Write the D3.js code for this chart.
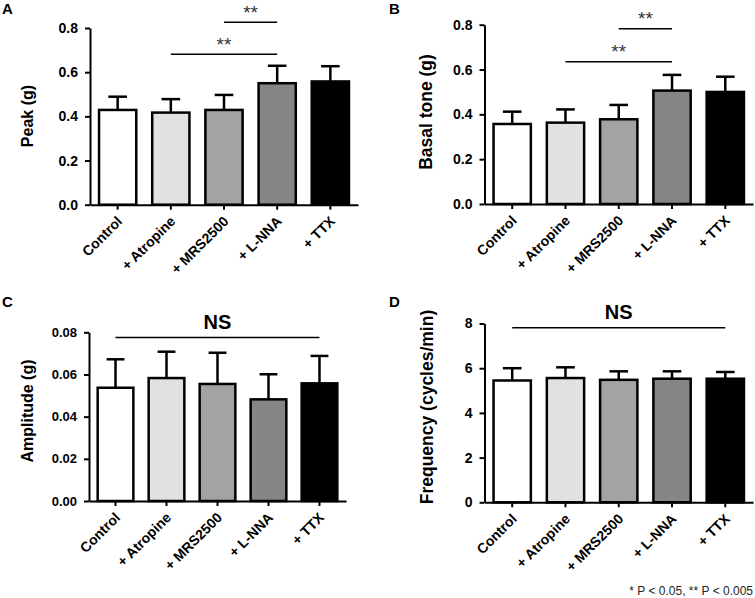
<!DOCTYPE html>
<html><head><meta charset="utf-8">
<script src="https://cdn.jsdelivr.net/npm/d3@7/dist/d3.min.js"></script>
<style>
body{margin:0;background:#fff}
svg text{font-family:"Liberation Sans",Arial,Helvetica,sans-serif}
</style>
</head><body>
<svg id="chart" width="755" height="598"></svg>
<script>
// ---------- data ----------
const categories = ["Control", "+ Atropine", "+ MRS2500", "+ L-NNA", "+ TTX"];

const peakMean  = [0.429, 0.417, 0.429, 0.550, 0.558];
const peakSEM   = [0.060, 0.061, 0.068, 0.079, 0.069];
const peakTicks = [0, 0.2, 0.4, 0.6, 0.8];

const basalMean  = [0.357, 0.363, 0.378, 0.506, 0.500];
const basalSEM   = [0.055, 0.059, 0.064, 0.070, 0.068];
const basalTicks = [0, 0.2, 0.4, 0.6, 0.8];

const ampMean  = [0.0537, 0.0583, 0.0555, 0.0482, 0.0558];
const ampSEM   = [0.0135, 0.0125, 0.0148, 0.0119, 0.0130];
const ampTicks = [0, 0.02, 0.04, 0.06, 0.08];

const freqMean  = [5.45, 5.56, 5.48, 5.53, 5.53];
const freqSEM   = [0.55, 0.48, 0.38, 0.33, 0.30];
const freqTicks = [0, 2, 4, 6, 8];

// significance brackets: [from index, to index, level, label]
const peakSig  = [[2, 3, 0.826, "**"], [1, 3, 0.681, "**"]];
const basalSig = [[2, 3, 0.782, "**"], [1, 3, 0.635, "**"]];
const ampSig   = [[0, 4, 0.0775, "NS"]];
const freqSig  = [[0, 4, 7.81, "NS"]];

const footnote = "* P < 0.05, ** P < 0.005";

// ---------- styling ----------
const barColors = ["#ffffff", "#e1e1e1", "#a3a3a3", "#858585", "#000000"];

const panels = [
  {letter:"A", lx:2, ly:14, x0:90, x1:358, yTop:28, yBot:204.7, max:0.8, ticks:peakTicks, fmt:d3.format(".1f"), tfs:14,
   means:peakMean, sems:peakSEM, ylabel:"Peak (g)", ylx:33, yly:116, yls:16, sig:peakSig},
  {letter:"B", lx:389, ly:14, x0:484.5, x1:753, yTop:24.7, yBot:204, max:0.8, ticks:basalTicks, fmt:d3.format(".1f"), tfs:14,
   means:basalMean, sems:basalSEM, ylabel:"Basal tone (g)", ylx:432, yly:112, yls:17.5, sig:basalSig},
  {letter:"C", lx:2, ly:307, x0:89, x1:346, yTop:332.3, yBot:501, max:0.08, ticks:ampTicks, fmt:d3.format(".2f"), tfs:13,
   means:ampMean, sems:ampSEM, ylabel:"Amplitude (g)", ylx:33, yly:411, yls:16, sig:ampSig},
  {letter:"D", lx:389, ly:307, x0:484.5, x1:753, yTop:323.5, yBot:502.3, max:8, ticks:freqTicks, fmt:d3.format("d"), tfs:14,
   means:freqMean, sems:freqSEM, ylabel:"Frequency (cycles/min)", ylx:432.5, yly:407, yls:17.5, sig:freqSig}
];

const svg = d3.select("#chart");

panels.forEach(p => {
  const g = svg.append("g");
  const x = d3.scaleBand().domain(categories).range([p.x0, p.x1]).paddingInner(0.3).paddingOuter(0.17);
  const y = d3.scaleLinear().domain([0, p.max]).range([p.yBot, p.yTop]);
  const bw = x.bandwidth();
  const cx = c => x(c) + bw / 2;

  const rows = categories.map((c, i) => ({c, m: p.means[i], s: p.sems[i], col: barColors[i]}));

  // error bars (upper only)
  const eb = g.append("g").attr("stroke", "#000").attr("stroke-width", 2.5).attr("fill", "none");
  eb.selectAll("line.v").data(rows).join("line").attr("class", "v")
    .attr("x1", d => cx(d.c)).attr("x2", d => cx(d.c))
    .attr("y1", d => y(d.m)).attr("y2", d => y(d.m + d.s));
  eb.selectAll("line.cap").data(rows).join("line").attr("class", "cap")
    .attr("x1", d => cx(d.c) - bw / 4).attr("x2", d => cx(d.c) + bw / 4)
    .attr("y1", d => y(d.m + d.s)).attr("y2", d => y(d.m + d.s));

  // bars
  g.append("g").selectAll("rect").data(rows).join("rect")
    .attr("x", d => x(d.c)).attr("y", d => y(d.m))
    .attr("width", bw).attr("height", d => p.yBot - y(d.m))
    .attr("fill", d => d.col).attr("stroke", "#000").attr("stroke-width", 2.5);

  // y axis
  const ya = g.append("g").attr("transform", `translate(${p.x0},0)`)
    .call(d3.axisLeft(y).tickValues(p.ticks).tickFormat(p.fmt).tickSize(5).tickSizeOuter(0).tickPadding(7));
  ya.select(".domain").attr("stroke-width", 2);
  ya.selectAll(".tick line").attr("stroke-width", 2);
  ya.selectAll("text").attr("font-size", p.tfs).attr("font-weight", "bold")
    .attr("font-family", "Liberation Sans, Arial, sans-serif").attr("fill", "#000");

  // x axis
  const xa = g.append("g").attr("transform", `translate(0,${p.yBot})`)
    .call(d3.axisBottom(x).tickSize(5).tickSizeOuter(0));
  xa.select(".domain").attr("stroke-width", 2);
  xa.selectAll(".tick line").attr("stroke-width", 2);
  xa.selectAll("text").attr("x", 0).attr("y", 0).attr("dy", "0.35em")
    .attr("text-anchor", "end").attr("transform", "translate(2,14) rotate(-45)")
    .attr("font-size", 14).attr("font-weight", "bold")
    .attr("font-family", "Liberation Sans, Arial, sans-serif").attr("fill", "#000");

  // y label
  g.append("text").attr("transform", `translate(${p.ylx},${p.yly}) rotate(-90)`)
    .attr("text-anchor", "middle").attr("font-size", p.yls).attr("font-weight", "bold")
    .text(p.ylabel);

  // panel letter
  g.append("text").attr("x", p.lx).attr("y", p.ly).attr("font-size", 15).attr("font-weight", "bold")
    .text(p.letter);

  // significance
  p.sig.forEach(([a, b, lvl, lab]) => {
    const yy = y(lvl);
    g.append("line").attr("x1", cx(categories[a])).attr("x2", cx(categories[b]))
      .attr("y1", yy).attr("y2", yy).attr("stroke", "#000").attr("stroke-width", 1.5);
    if (lab === "NS") {
      g.append("text").attr("x", cx(categories[2])).attr("y", yy - 8.5)
        .attr("text-anchor", "middle").attr("font-size", 20).attr("font-weight", "bold").text(lab);
    } else {
      g.append("text").attr("x", (cx(categories[a]) + cx(categories[b])) / 2).attr("y", yy - 3.7)
        .attr("text-anchor", "middle").attr("font-size", 19).attr("fill", "#333").text(lab);
    }
  });
});

svg.append("text").attr("x", 753).attr("y", 595).attr("text-anchor", "end")
  .attr("font-size", 12).attr("fill", "#222").text(footnote);
</script>
</body></html>
